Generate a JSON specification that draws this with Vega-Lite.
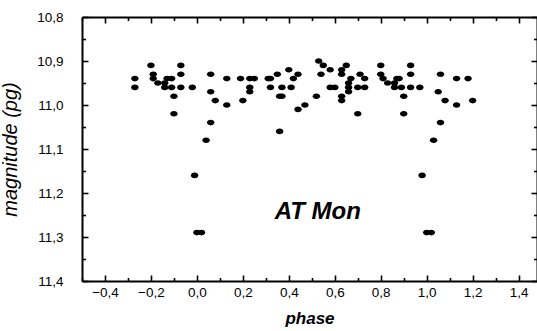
{
  "$schema": "https://vega.github.io/schema/vega-lite/v6.json",
  "width": 455,
  "height": 264,
  "autosize": {"type": "none"},
  "padding": {"left": 82, "top": 17, "right": 0, "bottom": 50},
  "background": "white",
  "config": {
    "view": {"stroke": null},
    "axis": {
      "domainColor": "black",
      "domainWidth": 2,
      "tickColor": "black",
      "tickWidth": 1.6,
      "tickSize": -6,
      "labelFont": "Liberation Sans",
      "labelFontSize": 13.5,
      "labelColor": "black",
      "grid": false,
      "titleFont": "Liberation Sans",
      "titleColor": "black",
      "labelOverlap": false,
      "labelFlush": false
    }
  },
  "layer": [
    {
      "data": {
        "values": [
          {"phase": -0.27, "mag": 10.94}, {"phase": -0.27, "mag": 10.96},
          {"phase": -0.20, "mag": 10.91}, {"phase": -0.19, "mag": 10.93},
          {"phase": -0.19, "mag": 10.94}, {"phase": -0.17, "mag": 10.95},
          {"phase": -0.14, "mag": 10.95}, {"phase": -0.13, "mag": 10.94},
          {"phase": -0.11, "mag": 10.94}, {"phase": -0.14, "mag": 10.96},
          {"phase": -0.11, "mag": 10.96}, {"phase": -0.10, "mag": 10.98},
          {"phase": -0.10, "mag": 11.02}, {"phase": -0.07, "mag": 10.91},
          {"phase": -0.07, "mag": 10.93}, {"phase": -0.07, "mag": 10.96},
          {"phase": -0.02, "mag": 10.96}, {"phase": 0.04, "mag": 11.08},
          {"phase": 0.06, "mag": 10.93}, {"phase": 0.06, "mag": 10.97},
          {"phase": 0.06, "mag": 11.04}, {"phase": 0.08, "mag": 10.99},
          {"phase": 0.13, "mag": 11.00}, {"phase": 0.13, "mag": 10.94},
          {"phase": 0.19, "mag": 10.94}, {"phase": 0.20, "mag": 10.99},
          {"phase": 0.23, "mag": 10.94}, {"phase": 0.25, "mag": 10.94},
          {"phase": 0.23, "mag": 10.96}, {"phase": 0.23, "mag": 10.97},
          {"phase": 0.31, "mag": 10.94}, {"phase": 0.32, "mag": 10.94},
          {"phase": 0.35, "mag": 10.93}, {"phase": 0.32, "mag": 10.96},
          {"phase": 0.37, "mag": 10.96}, {"phase": 0.36, "mag": 10.98},
          {"phase": 0.37, "mag": 10.98}, {"phase": 0.36, "mag": 11.06},
          {"phase": 0.40, "mag": 10.92}, {"phase": 0.44, "mag": 10.93},
          {"phase": 0.42, "mag": 10.94}, {"phase": 0.41, "mag": 10.96},
          {"phase": 0.44, "mag": 11.01}, {"phase": 0.47, "mag": 11.00},
          {"phase": 0.52, "mag": 10.98}, {"phase": 0.53, "mag": 10.90},
          {"phase": 0.54, "mag": 10.93}, {"phase": 0.55, "mag": 10.91},
          {"phase": 0.58, "mag": 10.92}, {"phase": 0.58, "mag": 10.96},
          {"phase": 0.60, "mag": 10.96}, {"phase": 0.63, "mag": 10.92},
          {"phase": 0.63, "mag": 10.93}, {"phase": 0.65, "mag": 10.91},
          {"phase": 0.67, "mag": 10.94}, {"phase": 0.66, "mag": 10.95},
          {"phase": 0.66, "mag": 10.96}, {"phase": 0.66, "mag": 10.97},
          {"phase": 0.63, "mag": 10.98}, {"phase": 0.63, "mag": 10.99},
          {"phase": 0.71, "mag": 10.93}, {"phase": 0.73, "mag": 10.94},
          {"phase": 0.70, "mag": 10.96}, {"phase": 0.73, "mag": 10.96},
          {"phase": 0.70, "mag": 11.02}, {"phase": 0.80, "mag": 10.91},
          {"phase": 0.80, "mag": 10.93}, {"phase": 0.81, "mag": 10.94},
          {"phase": 0.83, "mag": 10.95}, {"phase": 0.86, "mag": 10.95},
          {"phase": 0.87, "mag": 10.94}, {"phase": 0.88, "mag": 10.94},
          {"phase": 0.86, "mag": 10.96}, {"phase": 0.89, "mag": 10.96},
          {"phase": 0.90, "mag": 10.98}, {"phase": 0.90, "mag": 11.02},
          {"phase": 0.93, "mag": 10.91}, {"phase": 0.93, "mag": 10.93},
          {"phase": 0.93, "mag": 10.96}, {"phase": 0.97, "mag": 10.96},
          {"phase": 1.03, "mag": 11.08}, {"phase": 1.06, "mag": 10.93},
          {"phase": 1.05, "mag": 10.97}, {"phase": 1.06, "mag": 11.04},
          {"phase": 1.08, "mag": 10.99}, {"phase": 1.13, "mag": 10.94},
          {"phase": 1.13, "mag": 11.00}, {"phase": 1.18, "mag": 10.94},
          {"phase": 1.20, "mag": 10.99},
          {"phase": -0.01, "mag": 11.16}, {"phase": 0.00, "mag": 11.29},
          {"phase": 0.02, "mag": 11.29}, {"phase": 0.98, "mag": 11.16},
          {"phase": 1.00, "mag": 11.29}, {"phase": 1.02, "mag": 11.29}
        ]
      },
      "mark": {
        "type": "point",
        "shape": "M-1,0A1,0.75,0,1,0,1,0A1,0.75,0,1,0,-1,0Z",
        "filled": true,
        "color": "black",
        "opacity": 1,
        "size": 56
      },
      "encoding": {
        "x": {
          "field": "phase",
          "type": "quantitative",
          "scale": {"domain": [-0.5, 1.48], "nice": false, "zero": false},
          "axis": {
            "orient": "bottom",
            "values": [-0.5, -0.4, -0.3, -0.2, -0.1, 0.0, 0.1, 0.2, 0.3, 0.4, 0.5, 0.6, 0.7, 0.8, 0.9, 1.0, 1.1, 1.2, 1.3, 1.4],
            "labelExpr": "abs(datum.value*5 - round(datum.value*5)) < 0.01 ? replace(format(datum.value, '.1f'), '.', ',') : ''",
            "tickDash": {"condition": {"test": "abs(datum.value*5 - round(datum.value*5)) < 0.01", "value": [6, 30]}, "value": [3.5, 30]},
            "labelPadding": 10,
            "title": "phase",
            "titleFontSize": 17,
            "titleFontStyle": "italic",
            "titleFontWeight": "bold",
            "titlePadding": 12
          }
        },
        "y": {
          "field": "mag",
          "type": "quantitative",
          "scale": {"domain": [10.8, 11.4], "reverse": true, "nice": false, "zero": false},
          "axis": {
            "orient": "left",
            "values": [10.8, 10.85, 10.9, 10.95, 11.0, 11.05, 11.1, 11.15, 11.2, 11.25, 11.3, 11.35, 11.4],
            "labelExpr": "abs(datum.value*10 - round(datum.value*10)) < 0.01 ? replace(format(datum.value, '.1f'), '.', ',') : ''",
            "tickDash": {"condition": {"test": "abs(datum.value*10 - round(datum.value*10)) < 0.01", "value": [6, 30]}, "value": [3.5, 30]},
            "labelPadding": 25,
            "title": "magnitude (pg)",
            "titleFontSize": 20,
            "titleFontStyle": "italic",
            "titleFontWeight": "normal",
            "titlePadding": 16
          }
        }
      }
    },
    {
      "data": {"values": [{"label": "AT Mon"}]},
      "mark": {
        "type": "text",
        "font": "Liberation Sans",
        "fontSize": 24,
        "fontStyle": "italic",
        "fontWeight": "bold",
        "color": "black",
        "align": "center",
        "baseline": "middle"
      },
      "encoding": {
        "text": {"field": "label"},
        "x": {
          "datum": 0.526,
          "type": "quantitative",
          "scale": {"domain": [-0.5, 1.48], "nice": false, "zero": false},
          "axis": {
            "orient": "top",
            "values": [-0.5, -0.4, -0.3, -0.2, -0.1, 0.0, 0.1, 0.2, 0.3, 0.4, 0.5, 0.6, 0.7, 0.8, 0.9, 1.0, 1.1, 1.2, 1.3, 1.4],
            "labels": false,
            "tickDash": {"condition": {"test": "abs(datum.value*5 - round(datum.value*5)) < 0.01", "value": [6, 30]}, "value": [3.5, 30]},
            "title": null
          }
        },
        "y": {
          "datum": 11.244,
          "type": "quantitative",
          "scale": {"domain": [10.8, 11.4], "reverse": true, "nice": false, "zero": false},
          "axis": {
            "orient": "right",
            "values": [10.8, 10.85, 10.9, 10.95, 11.0, 11.05, 11.1, 11.15, 11.2, 11.25, 11.3, 11.35, 11.4],
            "labels": false,
            "tickDash": {"condition": {"test": "abs(datum.value*10 - round(datum.value*10)) < 0.01", "value": [6, 30]}, "value": [3.5, 30]},
            "title": null
          }
        }
      }
    }
  ],
  "resolve": {"axis": {"x": "independent", "y": "independent"}}
}
